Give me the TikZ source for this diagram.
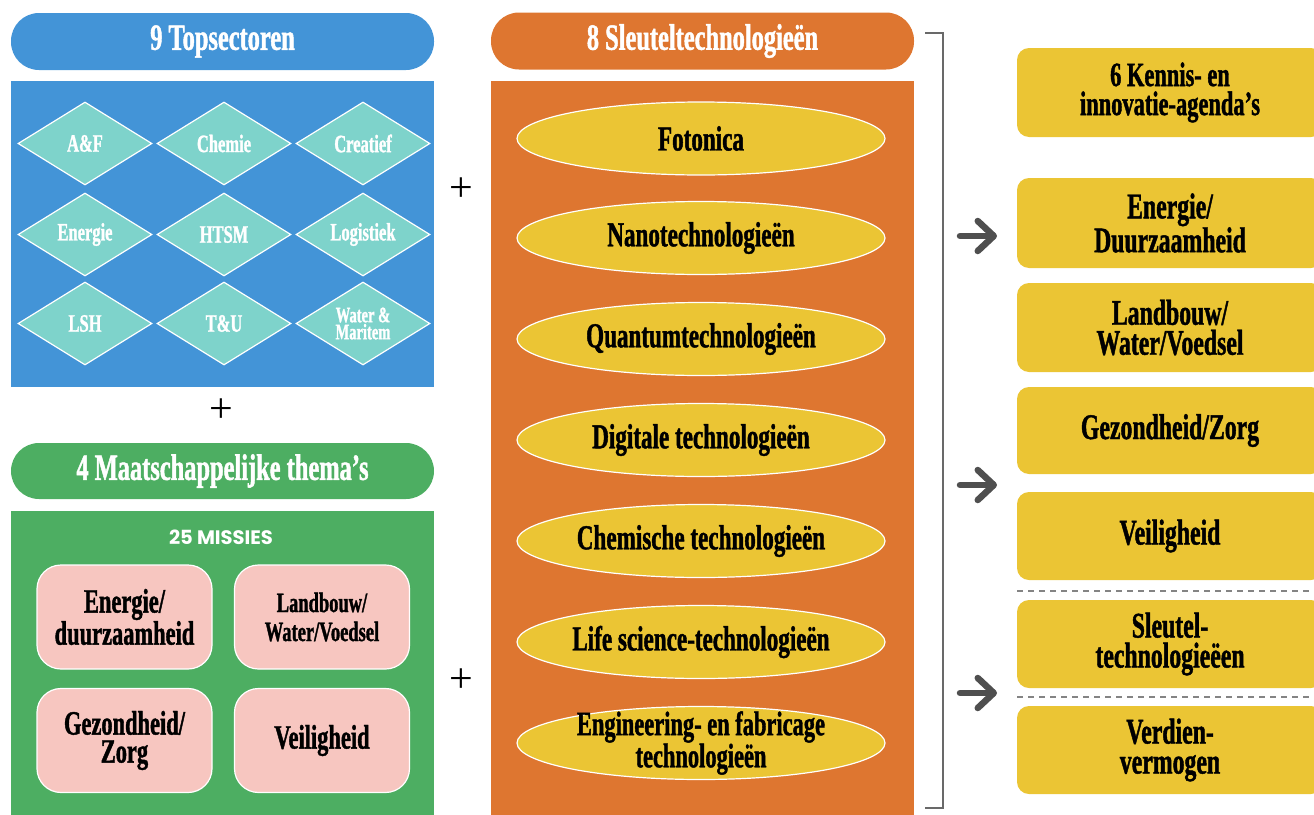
\documentclass[tikz,border=0pt]{standalone}
\usepackage{fontspec}
\setmainfont{Liberation Serif}
\newfontfamily\cond[FakeStretch=0.66,FakeBold=1.2]{Liberation Serif}
\newfontfamily\sansb{Poppins}
\usetikzlibrary{shapes.geometric,arrows.meta}
\definecolor{cblue}{HTML}{4394D7}
\definecolor{cteal}{HTML}{7ED3CB}
\definecolor{cgreen}{HTML}{4DAE62}
\definecolor{cpink}{HTML}{F7C6C0}
\definecolor{corange}{HTML}{DE7630}
\definecolor{cyellow}{HTML}{EBC534}
\definecolor{cgray}{HTML}{4F4F4F}
\begin{document}
\begin{tikzpicture}[x=1pt,y=-1pt,
  hdr/.style={rectangle, rounded corners=28pt, minimum width=423pt, minimum height=57pt, inner sep=0pt, text=white, font=\cond\bfseries\fontsize{37}{37}\selectfont},
  panel/.style={rectangle, minimum width=423pt, inner sep=0pt},
  dia/.style={diamond, aspect=1.6, fill=cteal, draw=white, line width=1.2pt, minimum width=134pt, minimum height=83pt, inner sep=0pt, text=white, font=\cond\bfseries\fontsize{25}{25}\selectfont, align=center},
  pinkbox/.style={rectangle, rounded corners=24pt, fill=cpink, draw=white, line width=1.2pt, minimum width=175pt, minimum height=104pt, inner sep=0pt, align=center, font=\cond\bfseries\fontsize{34}{28}\selectfont},
  ell/.style={ellipse, fill=cyellow, draw=white, line width=1.2pt, minimum width=368pt, minimum height=73pt, inner sep=0pt},
  etxt/.style={inner sep=0pt, align=center, font=\cond\bfseries\fontsize{35}{35}\selectfont},
  rbox/.style={rectangle, rounded corners=12pt, fill=cyellow, minimum width=306pt, minimum height=88pt, inner sep=0pt, align=center, font=\cond\bfseries\fontsize{36}{30}\selectfont},
  plus/.style={inner sep=0pt, font=\fontsize{42}{42}\selectfont},
  arr/.style={line width=6.5pt, draw=cgray, line cap=round, -{Straight Barb[length=16pt, width=30pt, line cap=round, line join=round]}},
  brk/.style={line width=2.5pt, draw=cgray!85},
  dsh/.style={line width=1.5pt, draw=cgray!70, dash pattern=on 6pt off 5pt}
]
\useasboundingbox (0,0) rectangle (1314,814);
\clip (0,0) rectangle (1314,814);

% ---- Topsectoren ----
\node[hdr, fill=cblue] (h1) at (222.5,41.5) {9 Topsectoren};
\node[panel, fill=cblue, minimum height=306pt] (p1) at (222.5,234) {};
\node[dia] (d1) at (85,143.5) {A\&F};
\node[dia] (d2) at (224,143.5) {Chemie};
\node[dia] (d3) at (363,143.5) {Creatief};
\node[dia] (d4) at (85,234.5) {Energie};
\node[dia] (d5) at (224,234.5) {HTSM};
\node[dia] (d6) at (363,234.5) {Logistiek};
\node[dia] (d7) at (85,323.5) {LSH};
\node[dia] (d8) at (224,323.5) {T\&U};
\node[dia, font=\cond\bfseries\fontsize{22}{17}\selectfont] (d9) at (363,323.5) {Water \&\\Maritem};

\node[plus] (pl1) at (221,411) {+};

% ---- Maatschappelijke thema's ----
\node[hdr, fill=cgreen, minimum height=56pt] (h2) at (222.5,471) {4 Maatschappelijke thema’s};
\node[panel, fill=cgreen, minimum height=309pt] (p2) at (222.5,665.5) {};
\node[inner sep=0pt, text=white, font=\sansb\bfseries\fontsize{19.5}{19.5}\selectfont] (ms) at (221,537) {25 MISSIES};
\node[pinkbox] (m1) at (124.5,617) {Energie/\\duurzaamheid};
\node[pinkbox, font=\cond\bfseries\fontsize{28}{29}\selectfont] (m2) at (322,617) {Landbouw/\\Water/Voedsel};
\node[pinkbox] (m3) at (124.5,740.5) {Gezondheid/\\Zorg};
\node[pinkbox] (m4) at (322,740.5) {Veiligheid};

\node[plus] (pl2) at (461,190) {+};
\node[plus] (pl3) at (461,681) {+};

% ---- Sleuteltechnologieen ----
\node[hdr, fill=corange] (h3) at (702.5,41) {8 Sleuteltechnologieën};
\node[panel, fill=corange, minimum height=739pt] (p3) at (702.5,450.5) {};
\node[ell] (e1) at (701,138.5) {};
\node[etxt] (t1) at (e1) {Fotonica};
\node[ell] (e2) at (701,238) {};
\node[etxt] (t2) at (e2) {Nanotechnologieën};
\node[ell] (e3) at (701,339) {};
\node[etxt] (t3) at (e3) {Quantumtechnologieën};
\node[ell] (e4) at (701,440) {};
\node[etxt] (t4) at (e4) {Digitale technologieën};
\node[ell] (e5) at (701,541) {};
\node[etxt] (t5) at (e5) {Chemische technologieën};
\node[ell] (e6) at (701,642) {};
\node[etxt] (t6) at (e6) {Life science-technologieën};
\node[ell] (e7) at (701,743) {};
\node[etxt, font=\cond\bfseries\fontsize{34}{22}\selectfont] (t7) at (e7) {Engineering- en fabricage\\technologieën};

% ---- bracket ----
\coordinate (bt0) at (925,33);
\coordinate (bt1) at (943,33);
\coordinate (bb1) at (943,808);
\coordinate (bb0) at (925,808);
\draw[brk] (bt0) -- (bt1) -- (bb1) -- (bb0);

% ---- right column ----
\node[rbox, minimum height=89pt, font=\cond\bfseries\fontsize{34}{29}\selectfont] (r1) at (1170,92.5) {6 Kennis- en\\innovatie-agenda’s};
\node[rbox, minimum height=90pt] (r2) at (1170,223) {Energie/\\Duurzaamheid};
\node[rbox, minimum height=89pt] (r3) at (1170,327.5) {Landbouw/\\Water/Voedsel};
\node[rbox, minimum height=87pt] (r4) at (1170,430.5) {Gezondheid/Zorg};
\node[rbox] (r5) at (1170,536) {Veiligheid};
\node[rbox] (r6) at (1170,644) {Sleutel-\\technologieëen};
\node[rbox] (r7) at (1170,750) {Verdien-\\vermogen};

\coordinate (ds1a) at (1017,591);
\coordinate (ds1b) at (1314,591);
\coordinate (ds2a) at (1017,697);
\coordinate (ds2b) at (1314,697);
\draw[dsh] (ds1a) -- (ds1b);
\draw[dsh] (ds2a) -- (ds2b);

% ---- arrows ----
\coordinate (a1s) at (960,236);
\coordinate (a1e) at (997,236);
\coordinate (a2s) at (960,485);
\coordinate (a2e) at (997,485);
\coordinate (a3s) at (960,693);
\coordinate (a3e) at (997,693);
\draw[arr] (a1s) -- (a1e);
\draw[arr] (a2s) -- (a2e);
\draw[arr] (a3s) -- (a3e);
\end{tikzpicture}
\end{document}
